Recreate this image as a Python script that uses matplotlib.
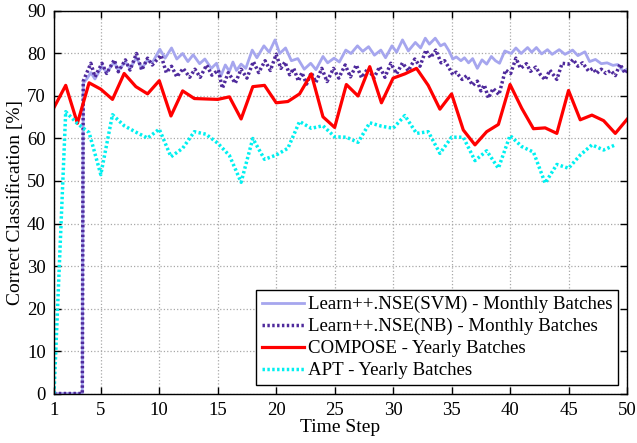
import matplotlib
matplotlib.use("Agg")
import matplotlib.pyplot as plt

# ---------------- data ----------------
steps = list(range(1, 51))
compose = [67.3, 72.5, 63.6, 73.1, 71.6, 69.2, 75.3, 72.2, 70.5, 73.6,
           65.3, 71.2, 69.4, 69.3, 69.2, 69.8, 64.6, 72.2, 72.5, 68.4,
           68.7, 70.5, 75.2, 65.1, 62.6, 72.7, 70.0, 76.9, 68.4, 74.2,
           75.2, 76.5, 72.5, 66.9, 70.5, 62.0, 58.5, 61.6, 63.3, 72.7,
           67.1, 62.3, 62.5, 61.2, 71.3, 64.4, 65.5, 64.2, 61.2, 64.5]

apt_steps = list(range(1, 50))
apt = [0.0, 66.3, 63.5, 61.4, 51.5, 65.6, 63.0, 61.5, 60.1, 62.2,
       55.7, 57.7, 61.6, 61.0, 58.9, 56.0, 49.7, 60.0, 55.1, 56.1,
       57.7, 64.0, 62.4, 63.0, 60.4, 60.3, 59.1, 63.7, 62.9, 62.4,
       65.4, 61.2, 61.6, 56.5, 60.3, 60.3, 54.8, 57.1, 53.0, 60.7,
       58.1, 56.8, 49.5, 53.9, 53.0, 56.1, 58.5, 57.3, 58.5]

nb_t = [1, 3.42, 3.5, 4.15, 4.5, 5.1, 5.5, 6.15, 6.5, 7.1, 7.5, 8.05, 8.5, 9.0, 9.4,
        10.15, 10.6, 11.05, 11.5, 12.05, 12.6, 13.05, 13.5, 14.05, 14.5, 15.05,
        15.4, 15.9, 16.5, 17.0, 17.5, 18.05, 18.5, 19.05, 19.5, 20.0, 20.4, 20.75,
        21.15, 21.5, 21.9, 22.2, 22.6, 23.0, 23.4, 23.9, 24.35, 24.9, 25.35, 25.9,
        26.35, 26.85, 27.3, 27.85, 28.35, 28.85, 29.3, 29.8, 30.3, 30.8, 31.3,
        31.85, 32.3, 32.8, 33.2, 33.65, 34.1, 34.4, 34.75, 35.1, 35.4, 35.9, 36.3,
        36.8, 37.2, 37.5, 37.8, 38.15, 38.55, 39.05, 39.6, 40.05, 40.5, 40.9, 41.4,
        41.75, 42.2, 42.6, 43.0, 43.4, 44.0, 44.45, 45.0, 45.4, 45.8, 46.2, 46.7,
        47.1, 47.4, 47.8, 48.2, 48.6, 49.0, 49.4, 49.85, 50.0]
nb_v = [0, 0, 73.5, 77.7, 74.5, 77.7, 75.3, 78.5, 75.7, 78.5, 76.1, 80.0, 76.1, 78.9, 77.3,
        79.6, 75.5, 77.0, 74.5, 76.5, 74.4, 76.3, 74.4, 77.3, 74.9, 76.1,
        71.8, 75.5, 73.0, 76.3, 74.2, 78.1, 75.5, 78.3, 76.0, 79.8, 76.5, 78.0,
        75.0, 76.5, 73.5, 75.5, 72.8, 75.5, 73.2, 76.5, 73.4, 76.5, 74.2, 77.3,
        74.5, 77.3, 74.3, 76.5, 74.2, 76.9, 74.4, 77.7, 75.2, 77.8, 75.9,
        78.7, 77.0, 80.8, 79.0, 80.8, 77.8, 78.3, 76.8, 75.0, 75.6, 73.9, 74.8,
        72.5, 73.5, 71.2, 72.6, 69.5, 71.8, 70.3, 76.1, 75.3, 78.9, 76.5, 77.6,
        75.8, 76.8, 75.0, 73.8, 76.1, 73.9, 77.7, 77.5, 78.6, 77.0, 77.8, 75.9,
        76.5, 75.3, 76.3, 75.3, 76.0, 74.8, 77.5, 75.3, 76.0]

svm_t = [1, 3.42, 3.5, 3.8, 4.15, 4.5, 5.1, 5.5, 6.15, 6.5, 7.1, 7.5, 8.05, 8.5, 9.0, 9.4,
         10.05, 10.5, 11.05, 11.5, 12.0, 12.45, 12.9, 13.45, 13.9, 14.45, 14.9,
         15.25, 15.65, 16.0, 16.3, 16.6, 17.0, 17.4, 17.95, 18.35, 18.95, 19.4,
         19.9, 20.3, 20.8, 21.3, 21.85, 22.4, 22.95, 23.4, 24.0, 24.4, 24.95, 25.4,
         25.95, 26.4, 26.95, 27.4, 27.9, 28.4, 28.95, 29.35, 29.9, 30.3, 30.8,
         31.3, 31.9, 32.35, 32.75, 33.1, 33.6, 34.05, 34.4, 34.8, 35.1, 35.4, 35.8,
         36.1, 36.45, 36.8, 37.2, 37.6, 38.0, 38.4, 38.75, 39.1, 39.55, 40.1, 40.5,
         40.95, 41.5, 41.85, 42.25, 42.7, 43.2, 43.6, 44.2, 44.7, 45.35, 45.8,
         46.4, 46.8, 47.3, 47.8, 48.3, 48.8, 49.2, 49.7, 50.0]
svm_v = [0, 0, 73.0, 74.0, 75.5, 74.0, 77.0, 75.5, 78.0, 76.0, 78.0, 76.5, 79.0, 76.5, 78.5, 77.8,
         81.0, 78.9, 81.3, 78.7, 80.0, 78.1, 79.7, 77.6, 78.7, 76.5, 77.7,
         74.6, 77.3, 75.8, 78.0, 76.0, 77.5, 76.5, 80.8, 79.0, 81.8, 80.3,
         83.2, 80.0, 81.3, 78.3, 78.8, 76.3, 77.7, 76.2, 79.3, 77.8, 78.9, 78.0,
         80.8, 80.0, 81.8, 80.5, 81.6, 79.6, 80.8, 79.0, 81.8, 80.3, 83.2,
         80.6, 82.6, 81.3, 83.6, 82.2, 83.6, 81.8, 82.3, 80.5, 78.7, 79.2, 78.3,
         79.0, 77.8, 78.8, 76.5, 78.5, 77.5, 79.3, 78.3, 77.7, 80.6, 80.0, 81.3,
         80.0, 81.4, 80.3, 81.4, 79.9, 80.9, 79.8, 80.9, 79.8, 80.8, 79.5,
         80.4, 78.1, 78.6, 77.6, 77.8, 77.2, 77.4, 75.8, 76.3]

x_ticks = [1, 5, 10, 15, 20, 25, 30, 35, 40, 45, 50]
y_ticks = list(range(0, 91, 10))
labels = ["Learn++.NSE(SVM) - Monthly Batches",
          "Learn++.NSE(NB) - Monthly Batches",
          "COMPOSE - Yearly Batches",
          "APT - Yearly Batches"]

# ---------------- plot ----------------
plt.rcParams['font.family'] = ['Liberation Serif', 'DejaVu Serif']
plt.rcParams['font.size'] = 13.5

fig = plt.figure(figsize=(6.37, 4.43), dpi=100)
ax = fig.add_axes([0.0848, 0.1117, 0.8995, 0.8635])

ax.plot(svm_t, svm_v, color='#a6a6ee', lw=2.0, label=labels[0])
ax.plot(nb_t, nb_v, color='#4f2a9c', lw=2.5, ls=(0, (0.7, 0.7)), label=labels[1])
ax.plot(steps, compose, color='#ff0000', lw=2.3, label=labels[2])
ax.plot(apt_steps, apt, color='#00f0f0', lw=2.5, ls=(0, (0.7, 0.7)), label=labels[3])

ax.set_xlim(1, 50)
ax.set_ylim(0, 90)
ax.set_xticks(x_ticks)
ax.set_yticks(y_ticks)
ax.tick_params(direction='in', top=True, right=True, length=5, width=1, pad=6)
ax.grid(True, color='#a8a8a8', ls=':', lw=0.9)
for s in ax.spines.values():
    s.set_linewidth(1.0)

ax.set_xlabel('Time Step', labelpad=0, fontsize=14)
ax.set_ylabel('Correct Classification [%]', labelpad=2, fontsize=14)

leg = ax.legend(loc='lower right', frameon=True, fancybox=False, edgecolor='black',
                framealpha=1, borderaxespad=0.45, handlelength=2.2, handletextpad=0.25,
                labelspacing=0.25, borderpad=0.3, fontsize=13.6)
leg.get_frame().set_linewidth(1.0)

fig.savefig('out.png', dpi=100)
